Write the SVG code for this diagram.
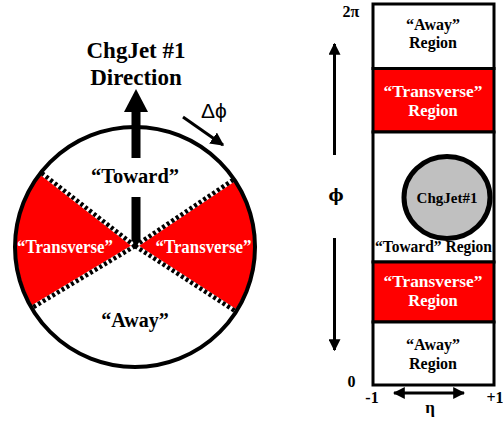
<svg xmlns="http://www.w3.org/2000/svg" width="503" height="421" viewBox="0 0 503 421">
<defs>
<marker id="ah" viewBox="0 0 10 10" refX="9" refY="5" markerWidth="4" markerHeight="4" orient="auto-start-reverse" markerUnits="strokeWidth">
<path d="M0,0 L10,5 L0,10 Z" fill="#000"/>
</marker>
<marker id="ahb" viewBox="0 0 10 10" refX="9" refY="5" markerWidth="4.5" markerHeight="4.5" orient="auto" markerUnits="strokeWidth">
<path d="M0,0 L10,5 L0,10 Z" fill="#000"/>
</marker>
</defs>
<style>
.t{font-family:"Liberation Serif","Times New Roman",serif;font-weight:bold;text-anchor:middle;fill:#000}
.w{fill:#fff}
.s{font-family:"Liberation Sans",Arial,sans-serif;fill:#000}
.ax{stroke:#000;stroke-width:3;fill:none}
.red{fill:#ff0000}
.box{stroke:#000;stroke-width:3}
.phi{font-family:"DejaVu Serif","Liberation Serif",serif;font-weight:bold;text-anchor:middle;fill:#000}
</style>
<rect width="503" height="421" fill="#fff"/>
<!-- Left: circle diagram -->
<g id="away-left">
<circle cx="135" cy="247" r="120" fill="#fff"/>
<text class="t" x="135" y="327" font-size="20">“Away”</text>
</g>
<g id="transverse-left">
<path class="red" d="M135,246 L41.2,172.7 A120,120 0 0 0 33,307.3 Z"/>
<text class="t w" x="65" y="253" font-size="18" textLength="96" lengthAdjust="spacingAndGlyphs">“Transverse”</text>
</g>
<g id="transverse-right">
<path class="red" d="M135,246 L233.7,179.5 A120,120 0 0 1 234.8,310.8 Z"/>
<text class="t w" x="203.5" y="253" font-size="18" textLength="96" lengthAdjust="spacingAndGlyphs">“Transverse”</text>
</g>
<g id="toward-left">
<text class="t" x="135" y="183" font-size="20.5">“Toward”</text>
</g>
<g id="sector-borders">
<g stroke="#fff" stroke-width="4.5">
<line x1="135" y1="246" x2="41.2" y2="172.7"/>
<line x1="135" y1="246" x2="33" y2="307.3"/>
<line x1="135" y1="246" x2="233.7" y2="179.5"/>
<line x1="135" y1="246" x2="234.8" y2="310.8"/>
</g>
<g stroke="#000" stroke-width="4.5" stroke-dasharray="3 2.5">
<line x1="135" y1="246" x2="41.2" y2="172.7"/>
<line x1="135" y1="246" x2="33" y2="307.3"/>
<line x1="135" y1="246" x2="233.7" y2="179.5"/>
<line x1="135" y1="246" x2="234.8" y2="310.8"/>
</g>
</g>
<g id="circle-outline">
<circle cx="135" cy="247" r="120" fill="none" stroke="#000" stroke-width="4"/>
</g>
<g id="jet-direction">
<rect x="131.5" y="110" width="9" height="48" fill="#000"/>
<rect x="131.5" y="197" width="9" height="44" fill="#000"/>
<polygon points="131.5,240 140.5,240 136,247" fill="#000"/>
<polygon points="124,112 148,112 136,89" fill="#000"/>
<text class="t" x="136" y="58" font-size="23">ChgJet #1</text>
<text class="t" x="136" y="85" font-size="23">Direction</text>
</g>
<g id="dphi">
<line x1="183" y1="117" x2="223" y2="145" stroke="#000" stroke-width="3" marker-end="url(#ahb)"/>
<text class="s" x="201" y="118" font-size="21">Δϕ</text>
</g>
<!-- Right: eta-phi panel -->
<g id="away-top">
<rect class="box" x="373" y="4" width="121" height="64.5" fill="#fff"/>
<text class="t" x="433" y="30" font-size="16">“Away”</text>
<text class="t" x="433" y="48" font-size="16">Region</text>
</g>
<g id="transverse-top">
<rect class="box red" x="373" y="68.5" width="121" height="63.5"/>
<text class="t w" x="433" y="97" font-size="16.5" textLength="99" lengthAdjust="spacingAndGlyphs">“Transverse”</text>
<text class="t w" x="433" y="116" font-size="16.5">Region</text>
</g>
<g id="toward-region">
<rect class="box" x="373" y="132" width="121" height="130" fill="#fff"/>
<text class="t" x="433.5" y="252" font-size="16" textLength="117" lengthAdjust="spacingAndGlyphs">“Toward” Region</text>
</g>
<g id="chgjet">
<ellipse cx="447" cy="197.5" rx="43" ry="41" fill="#c0c0c0" stroke="#000" stroke-width="5"/>
<text class="t" x="447" y="203" font-size="15">ChgJet#1</text>
</g>
<g id="transverse-bottom">
<rect class="box red" x="373" y="262" width="121" height="60"/>
<text class="t w" x="433" y="287" font-size="16.5" textLength="99" lengthAdjust="spacingAndGlyphs">“Transverse”</text>
<text class="t w" x="433" y="306" font-size="16.5">Region</text>
</g>
<g id="away-bottom">
<rect class="box" x="373" y="322" width="121" height="63" fill="#fff"/>
<text class="t" x="433" y="350" font-size="16">“Away”</text>
<text class="t" x="433" y="369" font-size="16">Region</text>
</g>
<g id="axes">
<line class="ax" x1="334.5" y1="155" x2="334.5" y2="44" marker-end="url(#ah)"/>
<line class="ax" x1="334.5" y1="238" x2="334.5" y2="350" marker-end="url(#ah)"/>
<line class="ax" x1="394" y1="393" x2="464" y2="393" marker-start="url(#ah)" marker-end="url(#ah)"/>
<text class="phi" x="336" y="201" font-size="16">ϕ</text>
<text class="t" x="351" y="17" font-size="16">2π</text>
<text class="t" x="351.5" y="387" font-size="16">0</text>
<text class="t" x="372" y="403" font-size="16">-1</text>
<text class="t" x="495" y="403" font-size="16">+1</text>
<text class="t" x="430" y="413" font-size="17">η</text>
</g>
</svg>
